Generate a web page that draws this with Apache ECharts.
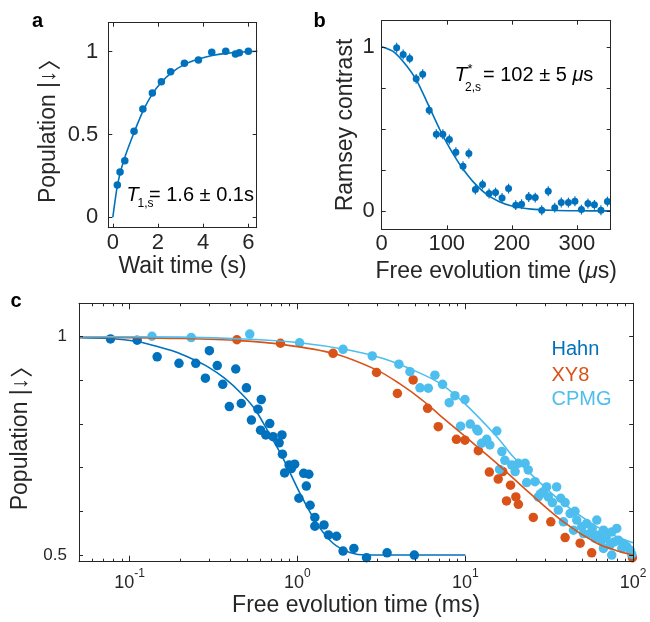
<!DOCTYPE html>
<html><head><meta charset="utf-8">
<script src="https://cdn.jsdelivr.net/npm/echarts@6/dist/echarts.min.js"></script>
<style>html,body{margin:0;padding:0;background:#fff}#c{width:650px;height:622px}</style>
</head><body><div id="c"></div>
<script>
// ---------- Panel a: T1 relaxation ----------
const t1Time = [0.20,0.32,0.53,0.94,1.33,1.75,2.15,2.56,3.17,3.79,4.38,5.00,5.43,5.60,6.00];
const t1Pop  = [0.195,0.274,0.342,0.519,0.654,0.750,0.819,0.879,0.930,0.950,0.996,1.002,0.986,0.994,1.002];
const t1FitTime = [0,0.1,0.2,0.35,0.55,0.95,1.35,1.75,2.15,2.55,3.15,3.8,4.4,5.0,5.6,6.4];
const t1FitPop  = [0,0.1,0.19,0.28,0.37,0.515,0.645,0.745,0.815,0.868,0.922,0.956,0.977,0.99,0.997,1.003];
const aXTicks = [0,2,4,6];
const aYTicks = [0,0.5,1];

// ---------- Panel b: Ramsey ----------
const ramseyTime = [23,33,43,53,63,73,84,94,104,114,125,134,144,155,165,175,185,195,206,215,226,236,246,256,266,276,287,297,307,317,327,337,347];
const ramseyContrast = [0.994,0.953,0.929,0.805,0.833,0.614,0.467,0.467,0.435,0.358,0.272,0.350,0.130,0.161,0.106,0.112,0.079,0.136,0.035,0.041,0.085,0.081,0.004,0.120,0.020,0.051,0.051,0.059,0.008,0.045,0.037,0.004,0.057];
const ramseyErr = [0.03,0.03,0.03,0.03,0.03,0.03,0.03,0.03,0.03,0.03,0.03,0.03,0.03,0.03,0.03,0.03,0.03,0.03,0.03,0.03,0.03,0.03,0.03,0.03,0.03,0.03,0.03,0.03,0.03,0.03,0.03,0.03,0.03];
const ramseyFitTime = [0,20,40,53,60,73,80,90,100,114,125,140,160,180,200,230,260,300,352];
const ramseyFitContrast = [1.0,0.965,0.875,0.8,0.745,0.635,0.575,0.49,0.415,0.32,0.255,0.18,0.105,0.057,0.03,0.011,0.004,0.001,0];
const bXTicks = [0,100,200,300];
const bYTicks = [0,0.25,0.5,0.75,1];
const bYLabels = [0,1];

// ---------- Panel c: dynamical decoupling ----------
const hahnTime = [0.077,0.111,0.146,0.197,0.248,0.283,0.299,0.333,0.359,0.393,0.429,0.463,0.497,0.532,0.582,0.603,0.609,0.648,0.684,0.716,0.778,0.809,0.814,0.839,0.892,0.920,0.963,1.02,1.09,1.13,1.17,1.19,1.27,1.27,1.44,1.53,1.71,1.87,2.17,2.58,3.42,4.97];
const hahnPop  = [0.995,0.992,0.954,0.939,0.939,0.905,0.968,0.934,0.891,0.840,0.926,0.847,0.883,0.809,0.834,0.786,0.856,0.775,0.801,0.771,0.757,0.775,0.731,0.688,0.706,0.698,0.708,0.630,0.687,0.658,0.685,0.614,0.586,0.566,0.569,0.546,0.543,0.509,0.515,0.494,0.505,0.500];
const hahnFitTime = [0.05,0.077,0.111,0.148,0.185,0.233,0.293,0.368,0.463,0.556,0.653,0.82,1.03,1.3,1.63,2.05,2.58,3.5,5,10];
const hahnFitPop  = [0.998,0.996,0.989,0.977,0.966,0.95,0.931,0.905,0.87,0.835,0.79,0.722,0.643,0.573,0.527,0.506,0.5,0.5,0.5,0.5];

const xy8Time = [0.436,0.792,1.63,2.96,3.94,4.89,5.96,6.90,8.85,9.95,11.95,13.9,15.7,16.7,17.6,18.6,20.0,20.7,25.4,32.3,39.3,48.3,56.6,98.9];
const xy8Pop  = [0.993,0.985,0.962,0.918,0.870,0.901,0.836,0.794,0.765,0.763,0.739,0.690,0.674,0.691,0.624,0.660,0.633,0.616,0.586,0.576,0.540,0.527,0.505,0.494];
const xy8FitTime = [0.05,0.1,0.2,0.45,0.82,1.63,2.96,4.04,5.54,7.06,9.72,15.4,24.3,38.4,60.7,79.8,100];
const xy8FitPop  = [0.999,0.998,0.996,0.991,0.982,0.962,0.924,0.893,0.855,0.820,0.775,0.710,0.641,0.576,0.527,0.510,0.500];

const cpmgTime = [0.136,0.233,0.52,1.03,1.87,2.79,4.02,4.68,5.37,6.02,6.59,7.32,8.02,8.67,9.37,9.95,10.7,11.7,11.9,12.5,13.4,14.0,15.4,16.0,16.5,17.2,18.9,19.8,20.7,22.7,23.2,23.7,26.0,27.2,28.0,29.2,30.5,31.2,33.0,35.0,35.8,37.0,38.4,39.3,42.1,44.1,45.0,46.1,49.4,50.6,52.8,55.4,57.0,59.3,60.7,62.0,65.0,66.5,66.5,69.0,72.8,74.5,74.5,77.0,79.8,81.6,85.5,88.0,91.6,95.9,98.0];
const cpmgPop  = [1.001,0.998,1.006,0.986,0.971,0.956,0.937,0.920,0.883,0.882,0.912,0.891,0.849,0.865,0.795,0.856,0.800,0.788,0.784,0.756,0.765,0.752,0.784,0.696,0.737,0.717,0.706,0.691,0.710,0.710,0.666,0.695,0.668,0.633,0.640,0.645,0.656,0.633,0.620,0.656,0.603,0.630,0.576,0.620,0.595,0.557,0.600,0.580,0.565,0.549,0.572,0.549,0.560,0.538,0.580,0.545,0.534,0.557,0.515,0.540,0.523,0.553,0.500,0.530,0.561,0.534,0.515,0.525,0.519,0.511,0.502];
const cpmgFitTime = [0.05,0.2,0.52,1.03,2.05,3.24,5.13,7.06,9.72,15.4,19.3,24.3,38.4,60.7,79.8,100];
const cpmgFitPop  = [1.0,0.999,0.994,0.986,0.969,0.950,0.920,0.893,0.850,0.771,0.725,0.687,0.618,0.565,0.542,0.528];

const cXMajorTicks = [0.1,1,10,100];
const cXMinorTicks = [0.06,0.07,0.08,0.09,0.2,0.3,0.4,0.5,0.6,0.7,0.8,0.9,2,3,4,5,6,7,8,9,20,30,40,50,60,70,80,90];
const cYTicks = [0.5,0.6,0.7,0.8,0.9,1];
const cYLabels = [0.5,1];

const seriesNames = ['Hahn','XY8','CPMG'];
const COLORS = {Hahn:'#0072BD', XY8:'#D95319', CPMG:'#4DBEEE'};

// ---------- helpers ----------
const FONT = "'Liberation Sans', Arial, 'DejaVu Sans', sans-serif";
const TXT = '#262626';
const zip = (a, b) => a.map((v, i) => [v, b[i]]);
const zip3 = (a, b, c) => a.map((v, i) => [v, b[i], c[i]]);

const popName = '{p|Population |↓}{k|〉}';
const ramseyXName = '{p|Free evolution time (}{i|μ}{p|s)}';
const nameRich = {
  p: {fontFamily: FONT, fontSize: 23, color: TXT},
  i: {fontFamily: FONT, fontSize: 23, color: TXT, fontStyle: 'italic'},
  k: {fontFamily: "'Noto Sans CJK JP', 'Noto Sans CJK SC', sans-serif", fontSize: 23, color: TXT}
};

function axis(o) {
  return {
    gridIndex: o.grid, type: o.type || 'value', position: o.position,
    min: o.min, max: o.max, logBase: 10,
    axisLine: {show: o.line !== false, onZero: false, lineStyle: {color: TXT, width: 1}},
    axisTick: {show: true, inside: true, length: o.tickLen || 4, customValues: o.ticks, lineStyle: {color: TXT, width: 1}},
    axisLabel: o.labels ? Object.assign({show: true, customValues: o.labels, color: TXT, fontFamily: FONT, fontSize: o.fontSize || 22, margin: o.margin || 6}, o.labelExtra || {}) : {show: false},
    splitLine: {show: false},
    name: o.name, nameLocation: 'middle', nameGap: o.nameGap,
    nameTextStyle: {color: TXT, fontFamily: FONT, fontSize: 23, rich: nameRich},
    z: 5
  };
}

const xAxes = [
  axis({grid:0, position:'bottom', min:-0.2, max:6.37, ticks:aXTicks, labels:aXTicks, margin:4, name:'Wait time (s)', nameGap:27}),
  axis({grid:0, position:'top', min:-0.2, max:6.37, ticks:aXTicks}),
  axis({grid:1, position:'bottom', min:0, max:352, ticks:bXTicks, labels:bXTicks, margin:4, name:ramseyXName, nameGap:31}),
  axis({grid:1, position:'top', min:0, max:352, ticks:bXTicks}),
  axis({grid:2, type:'log', position:'bottom', min:0.05, max:100, ticks:cXMajorTicks, labels:cXMajorTicks, tickLen:6, margin:6,
        name:'Free evolution time (ms)', nameGap:32,
        labelExtra:{formatter: v => '{b|10}{s|' + Math.round(Math.log10(v)) + '}',
          rich:{b:{fontSize:18, fontFamily:FONT, color:TXT, lineHeight:24, verticalAlign:'bottom'},
                s:{fontSize:12, fontFamily:FONT, color:TXT, lineHeight:13, verticalAlign:'top'}}}}),
  axis({grid:2, type:'log', position:'bottom', min:0.05, max:100, ticks:cXMinorTicks, tickLen:3, line:false}),
  axis({grid:2, type:'log', position:'top', min:0.05, max:100, ticks:cXMajorTicks, tickLen:6}),
  axis({grid:2, type:'log', position:'top', min:0.05, max:100, ticks:cXMinorTicks, tickLen:3, line:false})
];
const yAxes = [
  axis({grid:0, position:'left', min:-0.063, max:1.175, ticks:aYTicks, labels:aYTicks, margin:10, name:popName, nameGap:48}),
  axis({grid:0, position:'right', min:-0.063, max:1.175, ticks:aYTicks}),
  axis({grid:1, position:'left', min:-0.112, max:1.159, ticks:bYTicks, labels:bYLabels, margin:7, name:'Ramsey contrast', nameGap:25}),
  axis({grid:1, position:'right', min:-0.112, max:1.159, ticks:bYTicks}),
  axis({grid:2, position:'left', min:0.4847, max:1.0765, ticks:cYTicks, labels:cYLabels, fontSize:17, margin:12, name:popName, nameGap:37}),
  axis({grid:2, position:'right', min:0.4847, max:1.0765, ticks:cYTicks})
];

const series = [];
// panel a
series.push({type:'scatter', xAxisIndex:0, yAxisIndex:0, data: zip(t1Time, t1Pop), symbolSize:7.5, itemStyle:{color:'#0072BD', opacity:1}});
series.push({type:'line', xAxisIndex:0, yAxisIndex:0, data: zip(t1FitTime, t1FitPop), smooth:0.3, showSymbol:false, symbol:'none', lineStyle:{color:'#0072BD', width:1.6}});
// panel b
series.push({type:'custom', xAxisIndex:2, yAxisIndex:2, data: zip3(ramseyTime, ramseyContrast, ramseyErr),
  renderItem: (params, api) => {
    const x = api.value(0), y = api.value(1), e = api.value(2);
    const p1 = api.coord([x, y - e]), p2 = api.coord([x, y + e]);
    return {type:'line', shape:{x1:p1[0], y1:p1[1], x2:p2[0], y2:p2[1]}, style:{stroke:'#0072BD', lineWidth:1.2}};
  }});
series.push({type:'scatter', xAxisIndex:2, yAxisIndex:2, data: zip(ramseyTime, ramseyContrast), symbolSize:7, itemStyle:{color:'#0072BD', opacity:1}});
series.push({type:'line', xAxisIndex:2, yAxisIndex:2, data: zip(ramseyFitTime, ramseyFitContrast), smooth:0.3, showSymbol:false, symbol:'none', lineStyle:{color:'#0072BD', width:1.6}});
// panel c
const cData = {
  Hahn: [hahnTime, hahnPop, hahnFitTime, hahnFitPop],
  XY8: [xy8Time, xy8Pop, xy8FitTime, xy8FitPop],
  CPMG: [cpmgTime, cpmgPop, cpmgFitTime, cpmgFitPop]
};
seriesNames.forEach(n => {
  series.push({type:'scatter', name:n, xAxisIndex:4, yAxisIndex:4, data: zip(cData[n][0], cData[n][1]), symbolSize:9.5, itemStyle:{color:COLORS[n], opacity:1}});
});
seriesNames.forEach(n => {
  series.push({type:'line', name:n+' fit', xAxisIndex:4, yAxisIndex:4, data: zip(cData[n][2], cData[n][3]), smooth:0.3, showSymbol:false, symbol:'none', lineStyle:{color:COLORS[n], width:1.6}});
});

const txt = (x, y, text, extra) => ({type:'text', x, y, silent:true,
  style: Object.assign({text, fill:TXT, fontFamily:FONT, fontSize:20, align:'left', verticalAlign:'middle'}, extra || {})});

const graphic = [
  txt(37.5, 21, 'a', {fontWeight:'bold', fill:'#000', align:'center'}),
  txt(319.5, 21, 'b', {fontWeight:'bold', fill:'#000', align:'center'}),
  txt(16, 301, 'c', {fontWeight:'bold', fill:'#000', align:'center'}),
  // panel a annotation
  txt(126.5, 195, 'T', {fontStyle:'italic', fill:'#000'}),
  txt(137.5, 204, '1,s', {fontSize:12, fill:'#000'}),
  txt(149, 195, '= 1.6 ± 0.1s', {fill:'#000'}),
  // panel b annotation
  txt(454.5, 75, 'T', {fontStyle:'italic', fill:'#000', fontSize:21}),
  txt(467.5, 69, '*', {fontSize:13, fill:'#000'}),
  txt(465, 87.5, '2,s', {fontSize:12, fill:'#000'}),
  {type:'text', x:483, y:75, silent:true, style:{text:'= 102 ± 5 {i|μ}s', fill:'#000', fontFamily:FONT, fontSize:20, verticalAlign:'middle',
     rich:{i:{fontStyle:'italic', fontSize:20, fontFamily:FONT, fill:'#000'}}}},
  // legend
  txt(551.5, 349.5, seriesNames[0], {fill:COLORS.Hahn}),
  txt(551.5, 375, seriesNames[1], {fill:COLORS.XY8}),
  txt(551.5, 399.5, seriesNames[2], {fill:COLORS.CPMG})
];

const chart = echarts.init(document.getElementById('c'), null, {renderer:'canvas'});
chart.setOption({
  animation:false,
  backgroundColor:'#fff',
  grid:[
    {left:108.3, top:22.7, width:148.4, height:205},
    {left:381.7, top:20.7, width:229, height:208.6},
    {left:79, top:303.3, width:554.2, height:258.4}
  ],
  xAxis: xAxes,
  yAxis: yAxes,
  series,
  graphic
});
</script></body></html>
